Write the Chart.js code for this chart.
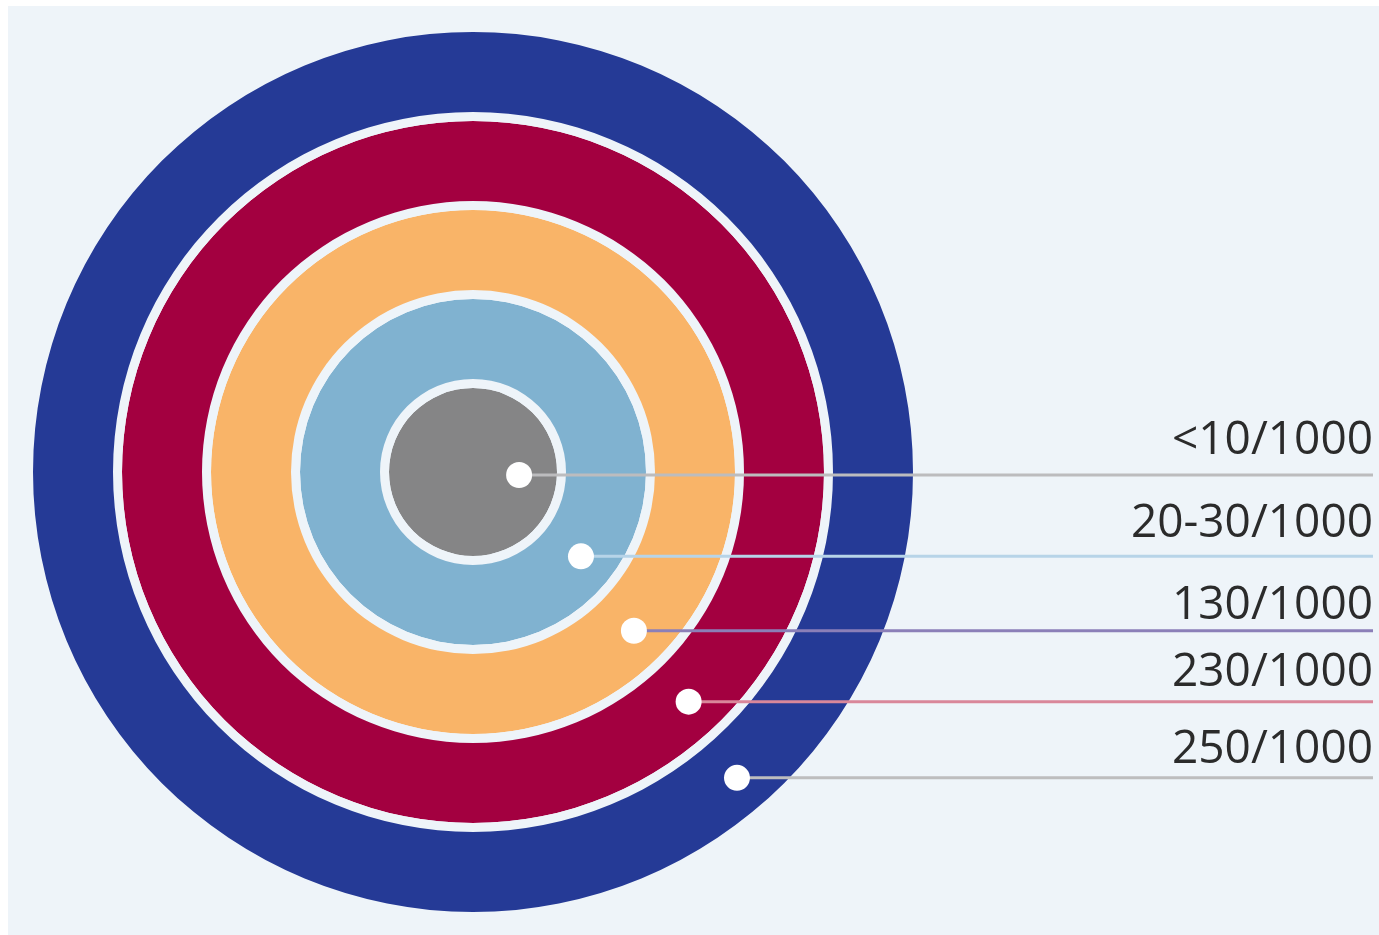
<!DOCTYPE html>
<html>
<head>
<meta charset="utf-8">
<script src="https://cdn.jsdelivr.net/npm/chart.js@4"></script>
<style>
    html, body { margin: 0; padding: 0; background: #ffffff; }
    .painel {
        position: absolute;
        left: 8px;
        top: 6px;
        width: 1371px;
        height: 929px;
        background: #eef4f9;
    }
</style>
</head>
<body>
<div class="painel">
    <canvas id="alvo" width="1371" height="929"></canvas>
</div>
<script>
// rings from the centre outwards
const labels = ['<10/1000', '20-30/1000', '130/1000', '230/1000', '250/1000'];
const valores = [1, 1, 1, 1, 1];
const coresAnel = ['#858586', '#80b2d0', '#f9b468', '#a30040', '#253a96'];
const coresLinha = ['#bcbcbe', '#b7d4e8', '#8b7fb8', '#d9879a', '#bdbdbe'];

// where each white dot sits on its ring (degrees, clockwise from 3 o'clock)
const anguloPonto = [3.7, 38, 44.6, 46.8, 49.2];
// distance between the leader line and the label baseline
const alturaTexto = [21, 19, 12, 16, 15];

const FUNDO = '#eef4f9';
const LARGURA_ANEL = 80;
const LARGURA_NUCLEO = 84;
const FOLGA = 9;

// doughnut datasets: first one is the outermost ring
let datasets = [];
let indiceAnel = [];
for (let i = labels.length - 1; i >= 0; i--) {
    indiceAnel[i] = datasets.length;
    datasets.push({
        label: labels[i],
        data: [valores[i]],
        backgroundColor: coresAnel[i],
        borderWidth: 0,
        weight: i == 0 ? LARGURA_NUCLEO : LARGURA_ANEL
    });
    if (i > 0) {
        // gap between two rings
        datasets.push({
            label: '',
            data: [1],
            backgroundColor: FUNDO,
            borderWidth: 0,
            weight: FOLGA
        });
    }
}

const rotulos = {
    id: 'rotulos',
    afterDatasetsDraw(chart) {
        const ctx = chart.ctx;
        const fimLinha = chart.width - 6;
        ctx.save();
        labels.forEach((texto, i) => {
            const arco = chart.getDatasetMeta(indiceAnel[i]).data[0];
            const r = arco.innerRadius + 0.55 * (arco.outerRadius - arco.innerRadius);
            const a = anguloPonto[i] * Math.PI / 180;
            const px = arco.x + r * Math.cos(a);
            const py = arco.y + r * Math.sin(a);

            ctx.beginPath();
            ctx.moveTo(px, py);
            ctx.lineTo(fimLinha, py);
            ctx.lineWidth = 3;
            ctx.strokeStyle = coresLinha[i];
            ctx.stroke();

            ctx.beginPath();
            ctx.arc(px, py, 13, 0, Math.PI * 2);
            ctx.fillStyle = '#ffffff';
            ctx.fill();

            ctx.font = '46px "Open Sans"';
            ctx.fillStyle = '#2b2b2b';
            ctx.textAlign = 'right';
            ctx.textBaseline = 'alphabetic';
            ctx.fillText(texto, fimLinha, py - alturaTexto[i]);
        });
        ctx.restore();
    }
};

new Chart(document.getElementById('alvo'), {
    type: 'doughnut',
    data: {
        labels: [''],
        datasets: datasets
    },
    options: {
        responsive: false,
        animation: false,
        cutout: 0,
        events: [],
        layout: {
            padding: { left: 25, top: 26, right: 466, bottom: 23 }
        },
        plugins: {
            legend: { display: false },
            tooltip: { enabled: false }
        }
    },
    plugins: [rotulos]
});
</script>
</body>
</html>
